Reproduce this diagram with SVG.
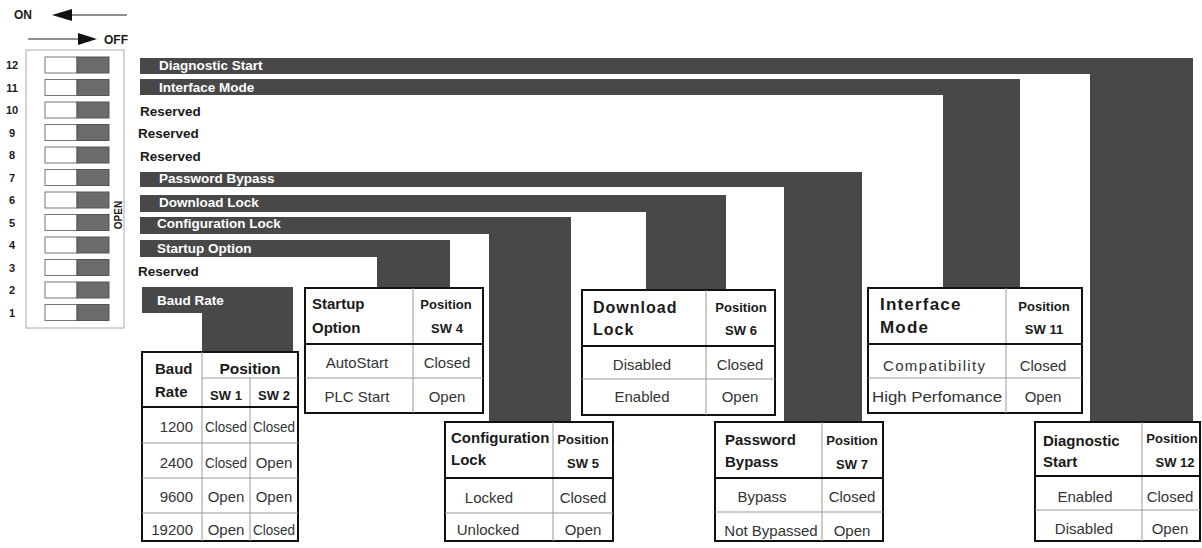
<svg xmlns="http://www.w3.org/2000/svg" width="1202" height="548" viewBox="0 0 1202 548">
<style>
text{font-family:"Liberation Sans",Arial,sans-serif;fill:#1a1a1a}
.b{font-weight:bold}
.band{fill:#484848}
.bl{fill:#fff;font-weight:bold;font-size:13.5px}
.res{font-weight:bold;font-size:13.5px}
.num{font-weight:bold;font-size:11px;text-anchor:middle}
.sw{fill:#fff;stroke:#777;stroke-width:1}
.swd{fill:#6b6b6b;stroke:#555;stroke-width:1}
.tb{fill:#fff;stroke:#111;stroke-width:2}
.g{stroke:#999;stroke-width:1}
.k{stroke:#111;stroke-width:2}
.c{text-anchor:middle}
.d{font-size:15px;fill:#333}
.ph{font-weight:bold;font-size:13px;text-anchor:middle}
.th{font-weight:bold;font-size:15px}
</style>
<defs>
<marker id="ah" viewBox="0 0 10 10" refX="10" refY="5" markerWidth="10" markerHeight="10" markerUnits="userSpaceOnUse" orient="auto">
<path d="M0,0 L10,5 L0,10 Z" fill="#111"/>
</marker>
</defs>
<rect width="1202" height="548" fill="#fff"/>

<g id="legend">
<text x="14" y="19" class="b" font-size="12">ON</text>
<line x1="127" y1="15" x2="60" y2="15" stroke="#222" stroke-width="1"/>
<path d="M52,15 L72,9 L72,21 Z" fill="#111"/>
<line x1="28" y1="39" x2="82" y2="39" stroke="#222" stroke-width="1"/>
<path d="M97,39 L78,33 L78,45 Z" fill="#111"/>
<text x="104" y="44" class="b" font-size="12">OFF</text>
</g>

<g id="dip-switch">
<rect x="26" y="50" width="98" height="278" fill="#fff" stroke="#aaa" stroke-width="1"/>
<g>
<rect class="sw" x="45" y="57" width="32" height="16"/><rect class="swd" x="77" y="57" width="32" height="16"/>
<rect class="sw" x="45" y="79.5" width="32" height="16"/><rect class="swd" x="77" y="79.5" width="32" height="16"/>
<rect class="sw" x="45" y="102" width="32" height="16"/><rect class="swd" x="77" y="102" width="32" height="16"/>
<rect class="sw" x="45" y="124.5" width="32" height="16"/><rect class="swd" x="77" y="124.5" width="32" height="16"/>
<rect class="sw" x="45" y="147" width="32" height="16"/><rect class="swd" x="77" y="147" width="32" height="16"/>
<rect class="sw" x="45" y="169.5" width="32" height="16"/><rect class="swd" x="77" y="169.5" width="32" height="16"/>
<rect class="sw" x="45" y="192" width="32" height="16"/><rect class="swd" x="77" y="192" width="32" height="16"/>
<rect class="sw" x="45" y="214.5" width="32" height="16"/><rect class="swd" x="77" y="214.5" width="32" height="16"/>
<rect class="sw" x="45" y="237" width="32" height="16"/><rect class="swd" x="77" y="237" width="32" height="16"/>
<rect class="sw" x="45" y="259.5" width="32" height="16"/><rect class="swd" x="77" y="259.5" width="32" height="16"/>
<rect class="sw" x="45" y="282" width="32" height="16"/><rect class="swd" x="77" y="282" width="32" height="16"/>
<rect class="sw" x="45" y="304.5" width="32" height="16"/><rect class="swd" x="77" y="304.5" width="32" height="16"/>
</g>
<text class="num" x="12" y="69">12</text>
<text class="num" x="12" y="91.5">11</text>
<text class="num" x="12" y="114">10</text>
<text class="num" x="12" y="136.5">9</text>
<text class="num" x="12" y="159">8</text>
<text class="num" x="12" y="181.5">7</text>
<text class="num" x="12" y="204">6</text>
<text class="num" x="12" y="226.5">5</text>
<text class="num" x="12" y="249">4</text>
<text class="num" x="12" y="271.5">3</text>
<text class="num" x="12" y="294">2</text>
<text class="num" x="12" y="316.5">1</text>
<text x="0" y="0" class="b" font-size="10" text-anchor="middle" transform="translate(122,215) rotate(-90)">OPEN</text>
</g>

<g id="connectors">
<path class="band" d="M140,58 H1193 V422 H1090 V74 H140 Z"/>
<path class="band" d="M140,79 H1020 V288 H943 V95 H140 Z"/>
<path class="band" d="M140,172 H862 V422 H784 V187 H140 Z"/>
<path class="band" d="M140,195 H726 V290 H646 V212 H140 Z"/>
<path class="band" d="M140,217 H571 V422 H489 V234 H140 Z"/>
<path class="band" d="M140,240 H450 V288 H377 V257 H140 Z"/>
<path class="band" d="M142,287 H293 V352 H202 V313 H142 Z"/>
</g>

<g id="switch-labels">
<text class="bl" x="159" y="70">Diagnostic Start</text>
<text class="bl" x="159" y="91.5">Interface Mode</text>
<text class="res" x="140" y="116">Reserved</text>
<text class="res" x="138" y="138">Reserved</text>
<text class="res" x="140" y="161">Reserved</text>
<text class="bl" x="159" y="183">Password Bypass</text>
<text class="bl" x="159" y="207">Download Lock</text>
<text class="bl" x="157" y="228">Configuration Lock</text>
<text class="bl" x="157" y="253">Startup Option</text>
<text class="res" x="138" y="276">Reserved</text>
<text class="bl" x="157" y="305">Baud Rate</text>
</g>

<g id="table-baud-rate">
<rect class="tb" x="142" y="352" width="156" height="189"/>
<line class="g" x1="202" y1="352" x2="202" y2="541"/>
<line class="g" x1="250" y1="378" x2="250" y2="541"/>
<line class="g" x1="202" y1="378" x2="298" y2="378"/>
<line class="k" x1="142" y1="407" x2="298" y2="407"/>
<line class="g" x1="142" y1="443" x2="298" y2="443"/>
<line class="g" x1="142" y1="478" x2="298" y2="478"/>
<line class="g" x1="142" y1="513" x2="298" y2="513"/>
<text class="th" x="155" y="374">Baud</text>
<text class="th" x="155" y="397">Rate</text>
<text class="b c" x="250" y="374" font-size="15.5">Position</text>
<text class="b c" x="226" y="400" font-size="13">SW 1</text>
<text class="b c" x="274" y="400" font-size="13">SW 2</text>
<text class="d" x="193" y="432" text-anchor="end">1200</text>
<text class="d c" x="226" y="432" textLength="42" lengthAdjust="spacingAndGlyphs">Closed</text>
<text class="d c" x="274" y="432" textLength="42" lengthAdjust="spacingAndGlyphs">Closed</text>
<text class="d" x="193" y="468" text-anchor="end">2400</text>
<text class="d c" x="226" y="468" textLength="42" lengthAdjust="spacingAndGlyphs">Closed</text>
<text class="d c" x="274" y="468">Open</text>
<text class="d" x="193" y="502" text-anchor="end">9600</text>
<text class="d c" x="226" y="502">Open</text>
<text class="d c" x="274" y="502">Open</text>
<text class="d" x="193" y="535" text-anchor="end">19200</text>
<text class="d c" x="226" y="535">Open</text>
<text class="d c" x="274" y="535" textLength="42" lengthAdjust="spacingAndGlyphs">Closed</text>
</g>

<g id="table-startup-option">
<rect class="tb" x="305" y="288" width="178" height="125"/>
<line class="g" x1="413" y1="288" x2="413" y2="413"/>
<line class="k" x1="305" y1="344" x2="483" y2="344"/>
<line class="g" x1="305" y1="378" x2="483" y2="378"/>
<text class="th" x="312" y="309">Startup</text>
<text class="th" x="312" y="333">Option</text>
<text class="ph" x="446" y="309">Position</text>
<text class="ph" x="447" y="333">SW 4</text>
<text class="d c" x="357" y="368">AutoStart</text>
<text class="d c" x="447" y="368">Closed</text>
<text class="d c" x="357" y="402">PLC Start</text>
<text class="d c" x="447" y="402">Open</text>
</g>

<g id="table-configuration-lock">
<rect class="tb" x="445" y="422" width="168" height="119"/>
<line class="g" x1="553" y1="422" x2="553" y2="541"/>
<line class="k" x1="445" y1="478" x2="613" y2="478"/>
<line class="g" x1="445" y1="513" x2="613" y2="513"/>
<text class="th" x="451" y="443">Configuration</text>
<text class="th" x="451" y="465">Lock</text>
<text class="ph" x="583" y="444">Position</text>
<text class="ph" x="583" y="468">SW 5</text>
<text class="d c" x="489" y="503">Locked</text>
<text class="d c" x="583" y="503">Closed</text>
<text class="d c" x="488" y="535">Unlocked</text>
<text class="d c" x="583" y="535">Open</text>
</g>

<g id="table-download-lock">
<rect class="tb" x="582" y="290" width="193" height="125"/>
<line class="g" x1="706" y1="290" x2="706" y2="415"/>
<line class="k" x1="582" y1="346" x2="775" y2="346"/>
<line class="g" x1="582" y1="379" x2="775" y2="379"/>
<text class="b" x="593" y="313" font-size="16" letter-spacing="1">Download</text>
<text class="b" x="593" y="335" font-size="16" letter-spacing="1">Lock</text>
<text class="ph" x="741" y="312" font-size="13.5">Position</text>
<text class="ph" x="741" y="335" font-size="13.5">SW 6</text>
<text class="d c" x="642" y="370" font-size="16">Disabled</text>
<text class="d c" x="740" y="370" font-size="16">Closed</text>
<text class="d c" x="642" y="402" font-size="16">Enabled</text>
<text class="d c" x="740" y="402" font-size="16">Open</text>
</g>

<g id="table-password-bypass">
<rect class="tb" x="715" y="422" width="168" height="119"/>
<line class="g" x1="822" y1="422" x2="822" y2="541"/>
<line class="k" x1="715" y1="478" x2="883" y2="478"/>
<line class="g" x1="715" y1="512" x2="883" y2="512"/>
<text class="th" x="725" y="445">Password</text>
<text class="th" x="725" y="467">Bypass</text>
<text class="ph" x="852" y="445">Position</text>
<text class="ph" x="852" y="469">SW 7</text>
<text class="d c" x="762" y="502" font-size="16">Bypass</text>
<text class="d c" x="852" y="502" font-size="16">Closed</text>
<text class="d c" x="771" y="536" font-size="15.5">Not Bypassed</text>
<text class="d c" x="852" y="536" font-size="16">Open</text>
</g>

<g id="table-interface-mode">
<rect class="tb" x="868" y="288" width="214" height="125"/>
<line class="g" x1="1006" y1="288" x2="1006" y2="413"/>
<line class="k" x1="868" y1="344" x2="1082" y2="344"/>
<line class="g" x1="868" y1="378" x2="1082" y2="378"/>
<text class="b" x="880" y="310" font-size="17" letter-spacing="1.2">Interface</text>
<text class="b" x="880" y="333" font-size="17" letter-spacing="1.2">Mode</text>
<text class="ph" x="1044" y="311" font-size="16">Position</text>
<text class="ph" x="1044" y="334" font-size="16">SW 11</text>
<text class="d c" x="934" y="371" font-size="16.5" textLength="102" lengthAdjust="spacing">Compatibility</text>
<text class="d c" x="1043" y="371" font-size="17">Closed</text>
<text class="d c" x="937" y="402" font-size="15.5" textLength="130" lengthAdjust="spacingAndGlyphs">High Perfomance</text>
<text class="d c" x="1043" y="402" font-size="17">Open</text>
</g>

<g id="table-diagnostic-start">
<rect class="tb" x="1035" y="422" width="165" height="119"/>
<line class="g" x1="1142" y1="422" x2="1142" y2="541"/>
<line class="k" x1="1035" y1="476" x2="1200" y2="476"/>
<line class="g" x1="1035" y1="510" x2="1200" y2="510"/>
<text class="th" x="1043" y="446">Diagnostic</text>
<text class="th" x="1043" y="467">Start</text>
<text class="ph" x="1172" y="443">Position</text>
<text class="ph" x="1175" y="467">SW 12</text>
<text class="d c" x="1085" y="502" font-size="16">Enabled</text>
<text class="d c" x="1170" y="502" font-size="16">Closed</text>
<text class="d c" x="1084" y="534" font-size="16">Disabled</text>
<text class="d c" x="1170" y="534" font-size="16">Open</text>
</g>
</svg>
